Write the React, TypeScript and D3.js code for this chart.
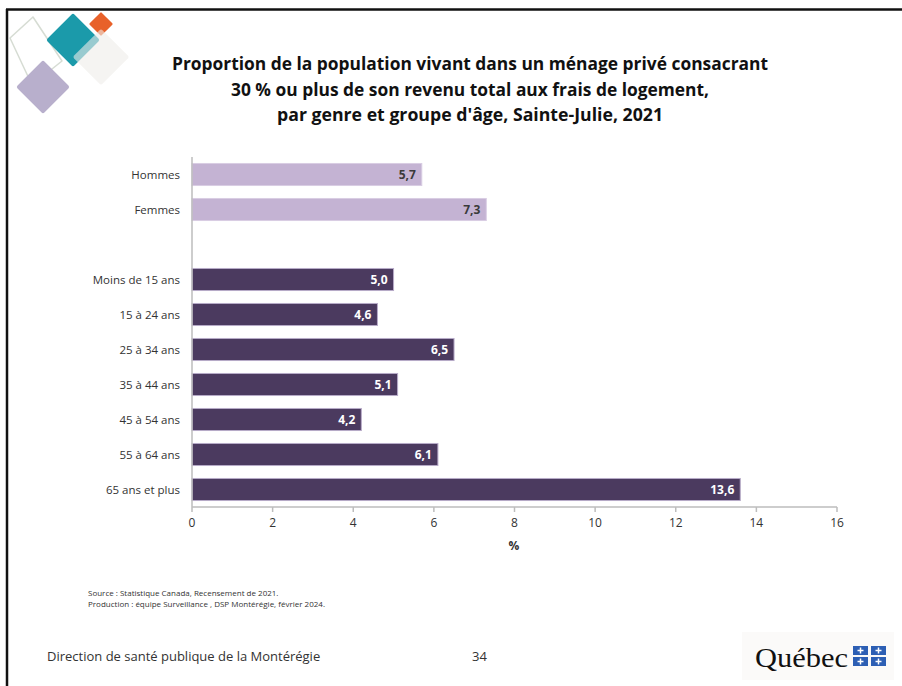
import React from "react";
import * as d3 from "d3";

const genderCategories = ["Hommes", "Femmes"];
const genderValues = [5.7, 7.3];
const ageCategories = [
  "Moins de 15 ans",
  "15 à 24 ans",
  "25 à 34 ans",
  "35 à 44 ans",
  "45 à 54 ans",
  "55 à 64 ans",
  "65 ans et plus",
];
const ageValues = [5.0, 4.6, 6.5, 5.1, 4.2, 6.1, 13.6];
const xTicks = [0, 2, 4, 6, 8, 10, 12, 14, 16];
const titleLines = [
  "Proportion de la population vivant dans un ménage privé consacrant",
  "30 % ou plus de son revenu total aux frais de logement,",
  "par genre et groupe d'âge, Sainte-Julie, 2021",
];
const sourceLines = [
  "Source : Statistique Canada, Recensement de 2021.",
  "Production : équipe Surveillance , DSP Montérégie, février 2024.",
];

const W = 902;
const H = 686;
const FONT = "'Open Sans', 'Noto Sans', sans-serif";

export default function App() {
  const spacer = "__spacer__";
  const domain = [...genderCategories, spacer, ...ageCategories];
  const rows = [
    ...genderCategories.map((c, i) => ({ cat: c, v: genderValues[i], group: "g" })),
    ...ageCategories.map((c, i) => ({ cat: c, v: ageValues[i], group: "a" })),
  ];

  const x = d3.scaleLinear().domain([0, 16]).range([192, 837]);
  const y = d3
    .scaleBand<string>()
    .domain(domain)
    .range([157, 507])
    .paddingInner(0.37)
    .paddingOuter(0.185);

  const titleWidths = [596, 478, 386];
  const axisY = 507;

  return (
    <svg
      width={W}
      height={H}
      style={{ position: "absolute", left: 0, top: 0, background: "#fff" }}
      fontFamily={FONT}
    >
      <rect x={0} y={0} width={W} height={H} fill="#fff" />

      {/* logo diamonds */}
      <g>
        <polygon
          points="33,17 10,38 32,85 62,61"
          fill="none"
          stroke="#d6dcd3"
          strokeWidth={1.5}
          strokeLinejoin="round"
        />
        <rect
          x={-19}
          y={-19}
          width={38}
          height={38}
          rx={2}
          transform="translate(73,40) rotate(45)"
          fill="#1b9aaa"
        />
        <rect
          x={-8.5}
          y={-8.5}
          width={17}
          height={17}
          rx={1}
          transform="translate(101,24) rotate(45)"
          fill="#e8612a"
        />
        <rect
          x={-20}
          y={-20}
          width={40}
          height={40}
          rx={2}
          transform="translate(101,57) rotate(45)"
          fill="#eeecea"
          fillOpacity={0.6}
        />
        <rect
          x={-19}
          y={-19}
          width={38}
          height={38}
          rx={2}
          transform="translate(43,87) rotate(45)"
          fill="#b8afcc"
        />
      </g>

      {/* frame */}
      <line x1={6} y1={9.5} x2={W} y2={9.5} stroke="#111" strokeWidth={2.5} />
      <line x1={7} y1={9} x2={7} y2={H} stroke="#111" strokeWidth={2.5} />

      {/* title */}
      {titleLines.map((t, i) => (
        <text
          key={i}
          x={470}
          y={70 + i * 25.5}
          textAnchor="middle"
          fontSize={18}
          fontWeight="bold"
          fill="#111"
          textLength={titleWidths[i]}
          lengthAdjust="spacingAndGlyphs"
        >
          {t}
        </text>
      ))}

      {/* bars */}
      {rows.map((r) => {
        const by = y(r.cat)!;
        const bh = y.bandwidth();
        const dark = r.group === "a";
        return (
          <g key={r.cat}>
            <rect
              x={x(0)}
              y={by}
              width={x(r.v) - x(0)}
              height={bh}
              fill={dark ? "#4b3a5f" : "#c4b3d3"}
              stroke={dark ? "#b7aac8" : "#d9cde3"}
              strokeWidth={1}
            />
            <text
              x={x(r.v) - 6}
              y={by + bh / 2}
              dy="0.35em"
              textAnchor="end"
              fontSize={12}
              fontWeight="bold"
              fill={dark ? "#fff" : "#3a3a3a"}
            >
              {d3.format(".1f")(r.v).replace(".", ",")}
            </text>
            <text
              x={180}
              y={by + bh / 2}
              dy="0.35em"
              textAnchor="end"
              fontSize={11.5}
              fill="#333"
            >
              {r.cat}
            </text>
          </g>
        );
      })}

      {/* axes */}
      <line x1={x(0)} y1={157} x2={x(0)} y2={axisY} stroke="#bdbdbd" strokeWidth={1.5} />
      <line x1={x(0)} y1={axisY} x2={x(16)} y2={axisY} stroke="#bdbdbd" strokeWidth={1.5} />
      {xTicks.map((t) => (
        <g key={t}>
          <line x1={x(t)} y1={axisY} x2={x(t)} y2={axisY + 5} stroke="#bdbdbd" strokeWidth={1.5} />
          <text x={x(t)} y={527} textAnchor="middle" fontSize={12} fill="#333">
            {t}
          </text>
        </g>
      ))}
      <text x={514} y={550} textAnchor="middle" fontSize={12} fontWeight="bold" fill="#333">
        %
      </text>

      {/* source */}
      {sourceLines.map((s, i) => (
        <text key={i} x={88} y={596 + i * 11} fontSize={8} fill="#333">
          {s}
        </text>
      ))}

      {/* footer */}
      <text x={47} y={661} fontSize={13} fill="#333">
        Direction de santé publique de la Montérégie
      </text>
      <text x={472} y={661} fontSize={13} fill="#333">
        34
      </text>

      {/* Québec logo */}
      <rect x={742} y={632} width={152} height={48} fill="#fbfaf9" />
      <text
        x={755}
        y={667}
        fontSize={28}
        fontFamily="'Liberation Serif', serif"
        fill="#111"
        textLength={93}
        lengthAdjust="spacingAndGlyphs"
      >
        Québec
      </text>
      {[0, 1].map((cx) =>
        [0, 1].map((cy) => {
          const fx = 853 + cx * 18;
          const fy = 646 + cy * 11;
          return (
            <g key={`${cx}-${cy}`}>
              <rect x={fx} y={fy} width={15} height={9} fill="#2d5fb4" />
              <line x1={fx + 7.5} y1={fy + 1.5} x2={fx + 7.5} y2={fy + 7.5} stroke="#fff" strokeWidth={1.5} />
              <line x1={fx + 4.5} y1={fy + 4.5} x2={fx + 10.5} y2={fy + 4.5} stroke="#fff" strokeWidth={1.5} />
            </g>
          );
        })
      )}
    </svg>
  );
}
